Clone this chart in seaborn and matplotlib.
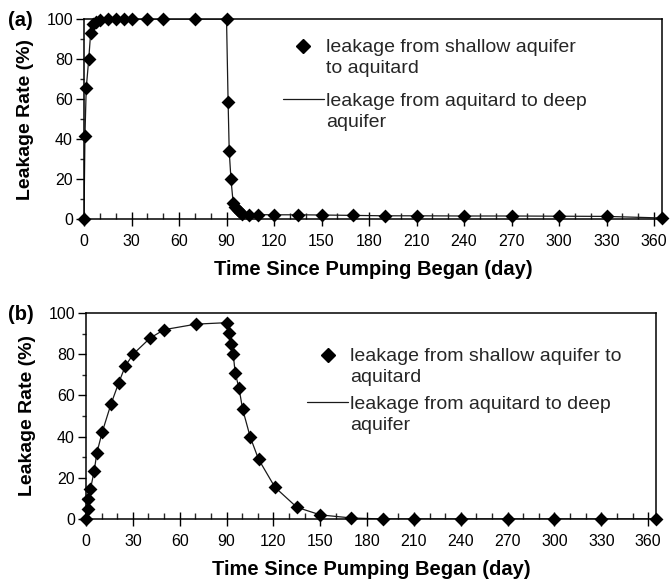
import matplotlib
matplotlib.use("Agg")
import matplotlib.pyplot as plt
from matplotlib.lines import Line2D
from matplotlib.legend_handler import HandlerLine2D
from matplotlib.ticker import MultipleLocator
import seaborn as sns
import pandas as pd

sns.set_theme(style="white")
plt.rcParams['font.family'] = ['Liberation Sans', 'DejaVu Sans']

# ---- data (a) ----
time_a = [0, 0.6, 1.4, 3, 4.2, 5.8, 7.3, 10, 15, 20, 25, 30, 40, 50, 70, 90,
          91, 91.7, 92.8, 94.2, 95.5, 97, 98.5, 100, 104.5, 110, 120, 135, 150,
          170, 190, 210, 240, 270, 300, 330, 365]
shallow_a = [0, 41.5, 65.3, 80, 93, 97.5, 98.7, 99.7, 100, 100, 100, 100, 100, 100, 100, 100,
             58.5, 34, 20, 8, 6, 4.5, 3.3, 2.5, 2.2, 2.2, 2.1, 2.1, 2.0,
             1.8, 1.6, 1.6, 1.5, 1.5, 1.4, 1.3, 0.5]
deep_a = shallow_a

# ---- data (b) ----
time_b = [0, 1, 1.5, 2.8, 5.3, 6.9, 10.3, 16, 21, 25.2, 30.3, 41, 50, 70.5, 90,
          91.3, 92.8, 94.3, 95.5, 98, 100.3, 105.2, 110.5, 121, 135, 150,
          170, 190, 210, 240, 270, 300, 330, 365]
shallow_b = [0, 4.7, 9.6, 14.4, 23.4, 31.9, 42, 55.8, 66.2, 74.3, 80.1, 87.8, 91.9, 94.6, 95.3,
             90.1, 84.8, 80, 71, 63.4, 53.3, 39.7, 29, 15.4, 5.7, 2,
             0.5, 0, 0, 0, 0, 0, 0, 0]
deep_b = shallow_b

xticks = [0, 30, 60, 90, 120, 150, 180, 210, 240, 270, 300, 330, 360]
yticks = [0, 20, 40, 60, 80, 100]
label_shallow_a = "leakage from shallow aquifer\nto aquitard"
label_deep_a = "leakage from aquitard to deep\naquifer"
label_shallow_b = "leakage from shallow aquifer to\naquitard"
label_deep_b = "leakage from aquitard to deep\naquifer"
xlabel = "Time Since Pumping Began (day)"
ylabel = "Leakage Rate (%)"

W, H = 671, 582
fig = plt.figure(figsize=(W / 100, H / 100), dpi=100)

def add_ax(l, r, t, b):
    return fig.add_axes([l / W, 1 - b / H, (r - l) / W, (b - t) / H])

ax_a = add_ax(84, 662, 19, 219)
ax_b = add_ax(86, 656, 313, 519)


class FirstLineHandler(HandlerLine2D):
    """Align the legend handle with the first line of a two-line label."""
    def create_artists(self, legend, orig_handle, xdescent, ydescent, width,
                       height, fontsize, trans):
        return super().create_artists(legend, orig_handle, xdescent,
                                      ydescent - 1.25 * fontsize, width, height,
                                      fontsize, trans)


def draw(ax, t, shallow, deep, lab_s, lab_d, leg_xy, lab_space, letter, letter_y):
    df = pd.DataFrame({"t": t, "s": shallow, "d": deep})
    sns.lineplot(data=df, x="t", y="d", ax=ax, color="#1a1a1a", lw=0.9,
                 sort=False, estimator=None, legend=False)
    sns.scatterplot(data=df, x="t", y="s", ax=ax, marker="D", s=50,
                    color="black", linewidth=0, clip_on=False, zorder=5, legend=False)
    ax.set_xlim(0, 365)
    ax.set_ylim(0, 100)
    ax.set_xticks(xticks)
    ax.set_xticklabels([str(v) for v in xticks])
    ax.set_yticks(yticks)
    ax.set_yticklabels([str(v) for v in yticks])
    ax.xaxis.set_minor_locator(MultipleLocator(10))
    ax.yaxis.set_minor_locator(MultipleLocator(10))
    ax.tick_params(axis="x", which="major", direction="inout", length=10, width=1,
                   labelsize=11.5, pad=6, colors="black", bottom=True)
    ax.tick_params(axis="x", which="minor", direction="in", length=4, width=1, bottom=True)
    ax.tick_params(axis="y", which="major", direction="out", length=6, width=1,
                   labelsize=11.5, pad=2, colors="black", left=True)
    ax.tick_params(axis="y", which="minor", direction="out", length=3, width=1, left=True)
    for sp in ax.spines.values():
        sp.set_color("black")
        sp.set_linewidth(1.1)
    ax.set_xlabel(xlabel, fontsize=14.5, fontweight="bold", labelpad=8, color="black")
    ax.set_ylabel(ylabel, fontsize=14, fontweight="bold", labelpad=9, color="black")
    h_s = Line2D([], [], marker="D", ms=7, color="black", linestyle="none")
    h_d = Line2D([], [], color="#1a1a1a", lw=0.9)
    leg = ax.legend([h_s, h_d], [lab_s, lab_d], loc="upper left", bbox_to_anchor=leg_xy,
                    frameon=False, fontsize=14, handlelength=2.1, handletextpad=0.12,
                    labelspacing=lab_space, borderpad=0, borderaxespad=0,
                    handler_map={Line2D: FirstLineHandler()})
    for txt in leg.get_texts():
        txt.set_linespacing(1.32)
    fig.text(8 / W, 1 - letter_y / H, letter, fontsize=14.5, fontweight="bold",
             ha="left", va="center", color="black")

draw(ax_a, time_a, shallow_a, deep_a, label_shallow_a, label_deep_a, (0.344, 0.90), 0.8, "(a)", 20)
draw(ax_b, time_b, shallow_b, deep_b, label_shallow_b, label_deep_b, (0.388, 0.83), 0.48, "(b)", 314)

fig.savefig("out.png", dpi=100)
